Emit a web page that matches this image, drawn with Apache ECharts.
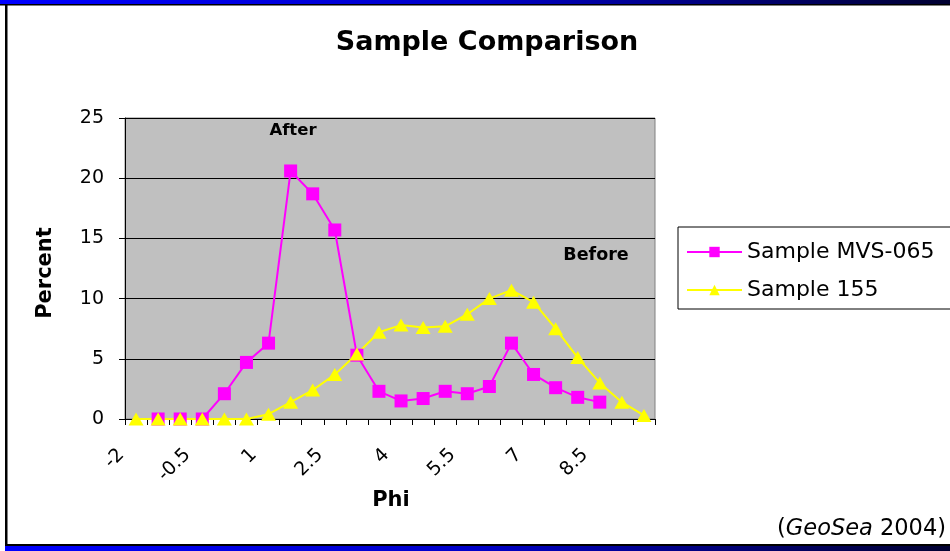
<!DOCTYPE html>
<html>
<head>
<meta charset="utf-8">
<script src="https://cdn.jsdelivr.net/npm/echarts@6/dist/echarts.min.js"></script>
<style>
html,body{margin:0;padding:0;background:#fff;}
#c{width:950px;height:551px;}
</style>
</head>
<body>
<div id="c"></div>
<script>
var categories = ['-2','-1.5','-1','-0.5','0','0.5','1','1.5','2','2.5','3','3.5','4','4.5','5','5.5','6','6.5','7','7.5','8','8.5','9','9.5'];
var mvs065 = [null,0,0,0,2.1,4.7,6.3,20.6,18.7,15.7,5.3,2.3,1.5,1.7,2.3,2.1,2.7,6.3,3.7,2.6,1.8,1.4,null,null];
var s155 = [0,0,0,0,0,0,0.4,1.4,2.4,3.7,5.4,7.2,7.8,7.6,7.7,8.7,10.0,10.7,9.7,7.5,5.1,3.0,1.4,0.3];
var seriesNames = ['Sample MVS-065','Sample 155'];
var yTicks = {min:0, max:25, interval:5};

var FONT = '"DejaVu Sans", Verdana, sans-serif';
var chart = echarts.init(document.getElementById('c'), null, {renderer:'canvas'});
var blueGrad = function(){ return new echarts.graphic.LinearGradient(0,0,1,0,[{offset:0,color:'#0000FF'},{offset:0.5,color:'#0000C8'},{offset:1,color:'#000030'}]); };
chart.setOption({
  animation:false,
  backgroundColor:'#fff',
  grid:{left:125,right:295,top:118,bottom:132,show:true,backgroundColor:'#C0C0C0',borderColor:'#808080',borderWidth:1},
  legend:{
    left:678, top:227, orient:'vertical',
    padding:[14,70,8,8], itemGap:16,
    borderColor:'#000', borderWidth:1, backgroundColor:'#fff',
    itemWidth:55, itemHeight:13,
    textStyle:{fontFamily:FONT,fontSize:22,color:'#000'},
    data:seriesNames
  },
  xAxis:{
    type:'category', data:categories, boundaryGap:true,
    axisLine:{lineStyle:{color:'#000',width:1}},
    axisTick:{show:true,interval:0,length:6,lineStyle:{color:'#000'}},
    axisLabel:{interval:2,rotate:45,fontFamily:FONT,fontSize:19,color:'#000',margin:18,padding:[0,21,0,0]},
    splitLine:{show:false}
  },
  yAxis:{
    type:'value', min:yTicks.min, max:yTicks.max, interval:yTicks.interval,
    axisLine:{show:true,lineStyle:{color:'#000'}},
    axisTick:{show:true,length:6,lineStyle:{color:'#000'}},
    axisLabel:{fontFamily:FONT,fontSize:19,color:'#000',margin:21},
    splitLine:{lineStyle:{color:'#000',width:1}}
  },
  series:[
    {name:seriesNames[0],type:'line',data:mvs065,connectNulls:false,showAllSymbol:true,
     symbol:'rect',symbolSize:13,
     itemStyle:{color:'#FF00FF'},lineStyle:{color:'#FF00FF',width:2}},
    {name:seriesNames[1],type:'line',data:s155,showAllSymbol:true,
     symbol:'triangle',symbolSize:[15,13],
     itemStyle:{color:'#FFFF00'},lineStyle:{color:'#FFFF00',width:2}}
  ],
  graphic:[
    {type:'rect',shape:{x:0,y:0,width:950,height:4},style:{fill:blueGrad()}},
    {type:'rect',shape:{x:0,y:4,width:950,height:1.5},style:{fill:'#000'}},
    {type:'rect',shape:{x:5,y:4,width:2.5,height:542},style:{fill:'#000'}},
    {type:'rect',shape:{x:5,y:544,width:945,height:2},style:{fill:'#000'}},
    {type:'rect',shape:{x:5,y:546,width:945,height:5},style:{fill:blueGrad()}},
    {type:'text',style:{text:'Sample Comparison',x:487,y:43,textAlign:'center',textVerticalAlign:'middle',font:'bold 27px '+FONT,fill:'#000'}},
    {type:'text',style:{text:'Percent',x:0,y:0,textAlign:'center',textVerticalAlign:'middle',font:'bold 21px '+FONT,fill:'#000'},x:46,y:273,rotation:Math.PI/2},
    {type:'text',style:{text:'Phi',x:391,y:501,textAlign:'center',textVerticalAlign:'middle',font:'bold 21px '+FONT,fill:'#000'}},
    {type:'text',style:{text:'After',x:293,y:131,textAlign:'center',textVerticalAlign:'middle',font:'bold 16.5px '+FONT,fill:'#000'}},
    {type:'text',style:{text:'Before',x:596,y:255,textAlign:'center',textVerticalAlign:'middle',font:'bold 17.5px '+FONT,fill:'#000'}},
    {type:'text',style:{x:946,y:529,textAlign:'right',textVerticalAlign:'middle',
      text:'{a|(}{b|GeoSea}{a| 2004)}',
      rich:{a:{fontFamily:FONT,fontSize:22.5,fill:'#000'},b:{fontFamily:FONT,fontSize:22.5,fontStyle:'italic',fill:'#000'}}}}
  ]
});
</script>
</body>
</html>
